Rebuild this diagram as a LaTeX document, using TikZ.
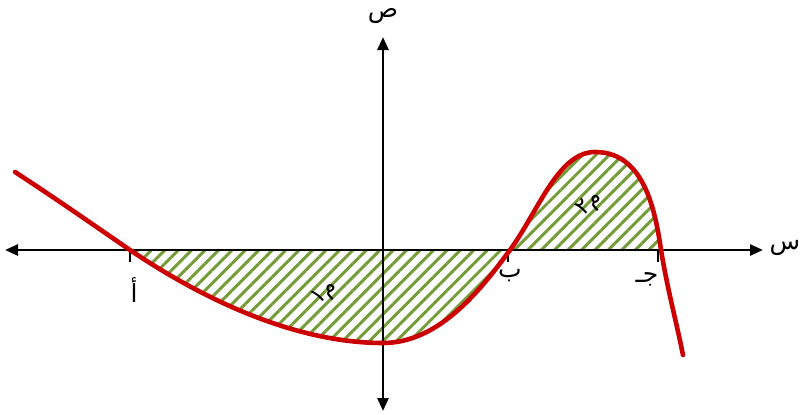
\documentclass[tikz,border=0pt]{standalone}
\usepackage{fontspec}
\TeXXeTstate=1
\newfontfamily\arabicfont[Script=Arabic]{DejaVu Sans}
\usetikzlibrary{patterns.meta,arrows.meta}
\definecolor{curvered}{RGB}{204,0,0}
\definecolor{hatchgreen}{RGB}{118,156,58}
\tikzset{
  axis/.style={line width=2.6pt,-{Triangle[length=13pt,width=11pt]}},
  curve/.style={line width=4.6pt,curvered,line cap=round},
  hatch/.style={pattern={Lines[angle=45,distance=9.5pt,line width=3pt]},pattern color=hatchgreen},
  tick/.style={line width=2.4pt},
  lbl/.style={font=\arabicfont\fontsize{25}{28}\selectfont,inner sep=0pt},
  arealbl/.style={font=\arabicfont\fontsize{23}{26}\selectfont,inner sep=0pt,rotate=42}
}
\begin{document}
\begin{tikzpicture}[x=1pt,y=-1pt]
\useasboundingbox (0,0) rectangle (801,415);
% key points
\coordinate (s) at (15,172);
\coordinate (a) at (130,250);
\coordinate (m) at (383,343);
\coordinate (b) at (510,250);
\coordinate (t) at (595,152);
\coordinate (c) at (661,250);
\coordinate (e) at (683,355);
\coordinate (xl) at (5,250);
\coordinate (xr) at (763,250);
\coordinate (yt) at (383,37);
\coordinate (yb) at (383,411);
% hatched areas
\fill[hatch] (a) .. controls (210,304) and (300,343) .. (m)
  .. controls (440,343) and (482,288) .. (b) -- cycle;
\fill[hatch] (b) .. controls (538,212) and (558,152) .. (t)
  .. controls (640,152) and (654,200) .. (c) -- cycle;
% axes
\draw[axis] (383,250) -- (xl);
\draw[axis] (383,250) -- (xr);
\draw[axis] (383,250) -- (yt);
\draw[axis] (383,250) -- (yb);
% ticks
\draw[tick] (a) -- ++(0,12);
\draw[tick] (508,250) -- ++(0,12);
\draw[tick] (658,250) -- ++(0,12);
% curve
\draw[curve] (s) .. controls (55,198) and (95,226) .. (a)
  .. controls (210,304) and (300,343) .. (m)
  .. controls (440,343) and (482,288) .. (b)
  .. controls (538,212) and (558,152) .. (t)
  .. controls (640,152) and (654,200) .. (c)
  .. controls (668,292) and (676,320) .. (e);
% labels
\node[lbl] (ly) at (383,16) {\beginR ص\endR};
\node[lbl] (lx) at (785,248) {\beginR س\endR};
\node[lbl] (la) at (134,290) {\beginR أ\endR};
\node[lbl] (lb) at (510,276) {\beginR ب\endR};
\node[lbl] (lc) at (647,279) {\beginR جـ\endR};
\node[arealbl] (m1) at (325,293) {\beginR م١\endR};
\node[arealbl] (m2) at (590,204) {\beginR م٢\endR};
\end{tikzpicture}
\end{document}
